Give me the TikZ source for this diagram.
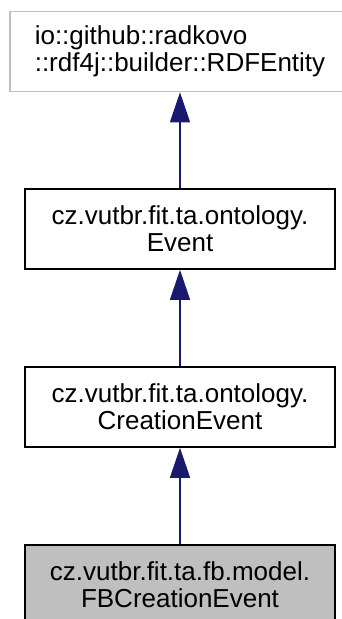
\documentclass[tikz,border=0pt]{standalone}
\usepackage{fontspec}
\setmainfont{Liberation Sans}
\usetikzlibrary{arrows.meta}
\definecolor{edgeblue}{HTML}{191970}
\definecolor{boxgray}{HTML}{BFBFBF}
\begin{document}
\begin{tikzpicture}[x=1pt,y=-1pt,
  cls/.style={draw=black,line width=1.6pt,fill=white,inner sep=0pt,align=center,
    minimum width=310pt,minimum height=80pt,font=\fontsize{26}{27}\selectfont},
  ext/.style={cls,draw=boxgray,align=left,minimum width=340pt},
  cur/.style={cls,fill=boxgray},
  inh/.style={draw=edgeblue,line width=1.3pt,-{Triangle[length=30pt,width=20pt]}}]
\useasboundingbox (0,0) rectangle (342,619);
\clip (0,0) rectangle (342,619);
\node[ext] (base) at (180,51.5) {io::github::radkovo\\::rdf4j::builder::RDFEntity};
\node[cls] (event) at (180,229) {cz.vutbr.fit.ta.ontology.\\Event};
\node[cls] (creation) at (180,407) {cz.vutbr.fit.ta.ontology.\\CreationEvent};
\node[cur] (fb) at (180,585) {cz.vutbr.fit.ta.fb.model.\\FBCreationEvent};
\draw[inh] (event.north) -- (base.south);
\draw[inh] (creation.north) -- (event.south);
\draw[inh] (fb.north) -- (creation.south);
\end{tikzpicture}
\end{document}
